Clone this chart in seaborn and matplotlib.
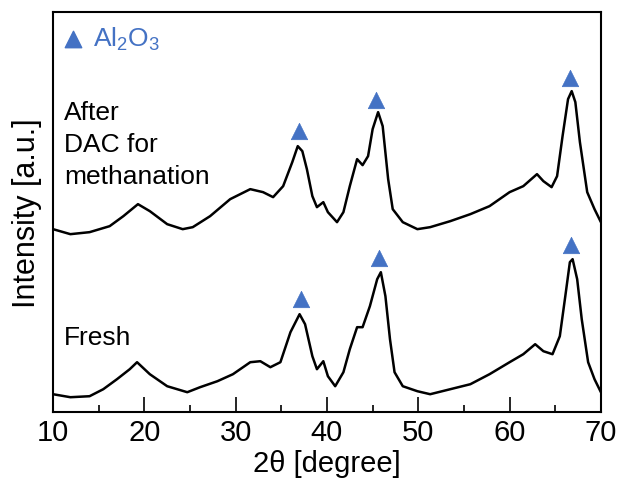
import numpy as np
import pandas as pd
import matplotlib
matplotlib.use("Agg")
import matplotlib.pyplot as plt
from matplotlib.ticker import MultipleLocator
import seaborn as sns

# XRD patterns (2theta in degrees, intensity in arbitrary units)
after_2theta = [10.0, 11.9, 14.0, 16.2, 17.7, 19.3, 20.6, 22.5, 24.2, 25.3, 27.2, 29.4,
                30.5, 31.6, 33.0, 34.1, 35.2, 36.2, 36.8, 37.3, 37.8, 38.4, 38.9, 39.6,
                40.1, 41.1, 41.8, 42.5, 43.3, 43.9, 44.5, 45.0, 45.6, 46.1, 46.7, 47.2,
                48.3, 49.9, 51.3, 53.5, 55.7, 57.8, 60.0, 61.5, 63.0, 63.7, 64.6, 65.2,
                65.8, 66.4, 66.8, 67.2, 67.7, 68.5, 69.3, 70.0]
after_int = [183, 178, 180, 186, 196, 208, 201, 188, 183, 185, 196, 213,
             218, 223, 220, 215, 226, 250, 266, 261, 243, 216, 205, 210,
             200, 190, 200, 226, 253, 247, 256, 283, 300, 286, 233, 203,
             190, 183, 185, 191, 198, 206, 220, 226, 238, 231, 225, 236,
             276, 313, 321, 310, 270, 220, 203, 190]

fresh_2theta = [10.0, 11.9, 14.0, 15.5, 17.0, 18.4, 19.2, 20.6, 22.5, 24.7, 26.1, 28.0,
                29.7, 31.6, 32.7, 33.8, 34.9, 36.0, 37.0, 37.6, 38.4, 38.9, 39.6, 40.1,
                40.9, 41.8, 42.5, 43.3, 43.9, 44.7, 45.5, 45.9, 46.4, 46.9, 47.4, 48.3,
                49.9, 51.3, 53.5, 55.7, 57.8, 60.0, 61.5, 62.8, 63.7, 64.7, 65.5, 66.1,
                66.6, 66.9, 67.4, 67.9, 68.6, 69.3, 70.0]
fresh_int = [18, 15, 16, 23, 33, 43, 50, 38, 26, 20, 25, 31,
             38, 50, 51, 45, 50, 80, 98, 88, 56, 43, 51, 36,
             26, 40, 63, 85, 85, 106, 133, 140, 116, 73, 40, 26,
             21, 18, 23, 28, 38, 50, 58, 68, 61, 58, 76, 116,
             150, 153, 133, 93, 50, 33, 20]

# Al2O3 reflection markers
al2o3_after_pos = [36.9, 45.4, 66.6]
al2o3_after_h = [281, 312, 334]
al2o3_fresh_pos = [37.2, 45.7, 66.7]
al2o3_fresh_h = [113, 154, 167]

x_ticks = [10, 20, 30, 40, 50, 60, 70]

sns.set_style("ticks")
plt.rcParams["font.family"] = ["Liberation Sans", "DejaVu Sans"]
plt.rcParams["mathtext.fontset"] = "custom"
plt.rcParams["mathtext.rm"] = "Liberation Sans"
plt.rcParams["mathtext.it"] = "Liberation Sans"
for key in ("text.color", "axes.labelcolor", "xtick.color", "ytick.color",
            "axes.edgecolor"):
    plt.rcParams[key] = "black"

blue = "#4472C4"

fig = plt.figure(figsize=(6.24, 4.85), dpi=100)
ax = fig.add_axes([0.085, 0.148, 0.878, 0.825])

df_after = pd.DataFrame({"two_theta": after_2theta, "intensity": after_int})
df_fresh = pd.DataFrame({"two_theta": fresh_2theta, "intensity": fresh_int})

sns.lineplot(data=df_after, x="two_theta", y="intensity", color="black",
             linewidth=1.8, ax=ax)
sns.lineplot(data=df_fresh, x="two_theta", y="intensity", color="black",
             linewidth=1.8, ax=ax)

df_mark = pd.DataFrame({"pos": al2o3_after_pos + al2o3_fresh_pos,
                        "h": al2o3_after_h + al2o3_fresh_h})
sns.scatterplot(data=df_mark, x="pos", y="h", marker="^", s=140, color=blue,
                edgecolor=blue, linewidth=0.5, ax=ax, zorder=5)

ax.set_xlim(10, 70)
ax.set_ylim(0, 400)
ax.set_xticks(x_ticks)
ax.set_xticklabels([str(t) for t in x_ticks])
ax.xaxis.set_minor_locator(MultipleLocator(5))
ax.tick_params(axis="x", which="major", direction="in", length=11, width=1.2,
               labelsize=21, pad=4)
ax.tick_params(axis="x", which="minor", direction="in", length=5, width=1.2)
ax.set_yticks([])
for sp in ax.spines.values():
    sp.set_linewidth(1.5)
    sp.set_color("black")
    sp.set_visible(True)

ax.set_xlabel("2θ [degree]", fontsize=21, labelpad=2)
ax.set_ylabel("Intensity [a.u.]", fontsize=22, labelpad=8)

# legend entry
ax.scatter([0.0365], [0.9325], marker="^", s=140, color=blue,
           transform=ax.transAxes, zorder=6)
ax.text(0.073, 0.915, r"Al$_2$O$_3$", color=blue, fontsize=19,
        transform=ax.transAxes, va="baseline")

# sample labels
for txt, yb in (("After", 0.7325), ("DAC for", 0.6525), ("methanation", 0.5725)):
    ax.text(0.02, yb, txt, fontsize=19, va="baseline", ha="left",
            transform=ax.transAxes)
ax.text(0.02, 0.17, "Fresh", fontsize=19, va="baseline", ha="left",
        transform=ax.transAxes)

fig.savefig("out.png", dpi=100)
